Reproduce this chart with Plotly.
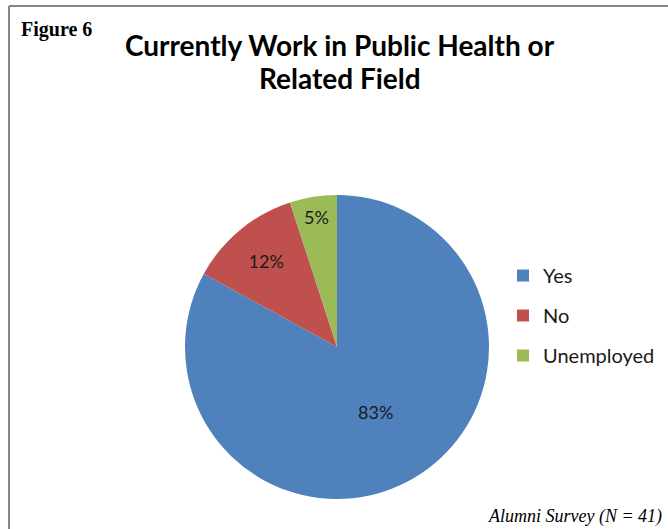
import plotly.graph_objects as go

W, H = 668, 529

labels = ["Yes", "No", "Unemployed"]
values = [83, 12, 5]
colors = ["#4F81BD", "#C0504D", "#9BBB59"]

title_lines = ["Currently Work in Public Health or", "Related Field"]
figure_label = "Figure 6"
footer = "Alumni Survey (N = 41)"

def px_x(x):
    return x / W

def px_y(y):
    return 1 - y / H

fig = go.Figure()

fig.add_trace(go.Pie(
    labels=labels,
    values=values,
    marker=dict(colors=colors, line=dict(width=0)),
    sort=False,
    direction="clockwise",
    rotation=0,
    textinfo="percent",
    texttemplate="%{percent:.0%}",
    textposition="inside",
    insidetextorientation="horizontal",
    textfont=dict(family="Lato", size=18, color="#1a1a1a"),
    domain=dict(x=[px_x(185), px_x(489)], y=[px_y(499), px_y(195)]),
    showlegend=False,
    hoverinfo="label+percent",
))

for lab, col in zip(labels, colors):
    fig.add_trace(go.Scatter(
        x=[None], y=[None], mode="markers", name=lab,
        marker=dict(symbol="square", size=10, color=col),
        legendgroup=lab, showlegend=True,
    ))

annotations = []
for line, yc in zip(title_lines, [45, 78]):
    annotations.append(dict(text="<b>" + line + "</b>", x=px_x(340), y=px_y(yc),
         xref="paper", yref="paper", xanchor="center", yanchor="middle",
         showarrow=False, font=dict(family="Lato", size=28, color="#000000")))
annotations += [
    dict(text="<b>" + figure_label + "</b>", x=px_x(19), y=px_y(30),
         xref="paper", yref="paper", xanchor="left", yanchor="middle",
         showarrow=False, font=dict(family="Liberation Serif", size=20, color="#000000")),
    dict(text="<i>" + footer + "</i>", x=px_x(664), y=px_y(516),
         xref="paper", yref="paper", xanchor="right", yanchor="middle",
         showarrow=False, font=dict(family="Liberation Serif", size=18, color="#000000")),
]

shapes = [
    dict(type="line", xref="paper", yref="paper", x0=px_x(9), x1=1, y0=px_y(6), y1=px_y(6),
         line=dict(color="#868686", width=2)),
    dict(type="line", xref="paper", yref="paper", x0=px_x(9), x1=px_x(9), y0=px_y(6), y1=0,
         line=dict(color="#868686", width=2)),
]

fig.update_layout(
    width=W, height=H,
    margin=dict(l=0, r=0, t=0, b=0),
    paper_bgcolor="white", plot_bgcolor="white",
    xaxis=dict(visible=False), yaxis=dict(visible=False),
    annotations=annotations,
    shapes=shapes,
    legend=dict(x=px_x(503), y=px_y(256), xanchor="left", yanchor="top",
                font=dict(family="Lato", size=20, color="#1a1a1a"),
                tracegroupgap=11, itemsizing="constant", bgcolor="rgba(0,0,0,0)"),
)

fig.write_html("out.html")
